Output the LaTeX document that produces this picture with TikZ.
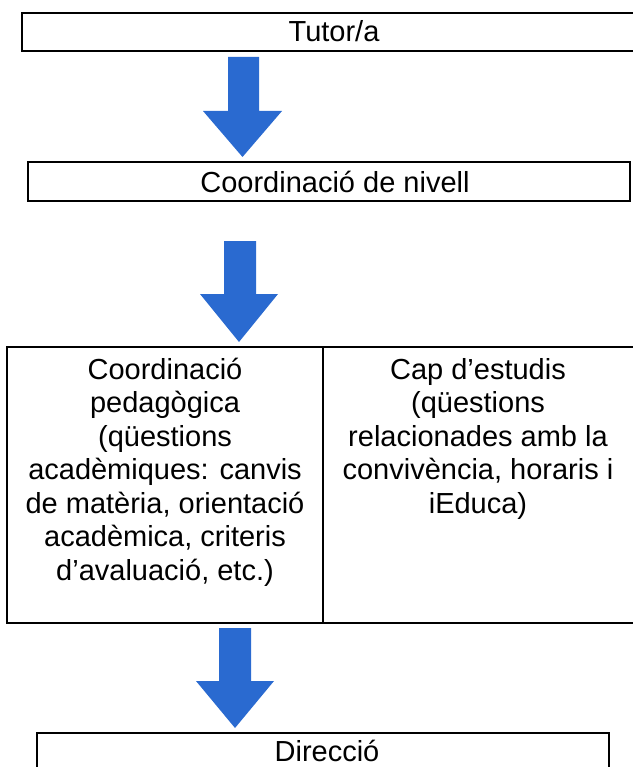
\documentclass[tikz,border=0pt]{standalone}
\usepackage{fontspec}
\setmainfont{Liberation Sans}
\definecolor{arrowblue}{RGB}{42,106,208}
\tikzset{
  boxline/.style={draw=black, line width=1.8pt, fill=white},
  label/.style={font=\fontsize{29}{33.5}\selectfont, inner sep=0pt, anchor=base, align=center},
  blockarrow/.style={fill=arrowblue, draw=none},
}
\begin{document}
\begin{tikzpicture}[x=1pt, y=-1pt]
  \useasboundingbox (0,0) rectangle (632,767);
  % boxes
  \draw[boxline] (22,13) rectangle (645,51);
  \node[label] (tutor) at (334,42) {Tutor/a};

  \draw[boxline] (28,162) rectangle (630,201);
  \node[label] (nivell) at (335,193) {Coordinació de nivell};

  \draw[boxline] (7,347) rectangle (645,623);
  \draw[boxline] (323,347) -- (323,623);
  % multi-line labels: base anchor sits on the last line's baseline
  \node[label] (pedag) at (165,580) {Coordinació\\pedagògica\\(qüestions\\acadèmiques: canvis\\de matèria, orientació\\acadèmica, criteris\\d’avaluació, etc.)};
  \node[label] (cap) at (478,513) {Cap d’estudis\\(qüestions\\relacionades amb la\\convivència, horaris i\\iEduca)};

  \draw[boxline] (37,733) rectangle (609,790);
  \node[label] (direccio) at (327,761) {Direcció};

  % block arrows
  \fill[blockarrow] (228,57) -- (259,57) -- (259,111) -- (282,111) -- (242.5,157) -- (203,111) -- (228,111) -- cycle;
  \fill[blockarrow] (224,241) -- (256,241) -- (256,294) -- (278,294) -- (239,342) -- (200,294) -- (224,294) -- cycle;
  \fill[blockarrow] (219,628) -- (251,628) -- (251,681) -- (274,681) -- (235,728) -- (196,681) -- (219,681) -- cycle;
\end{tikzpicture}
\end{document}
